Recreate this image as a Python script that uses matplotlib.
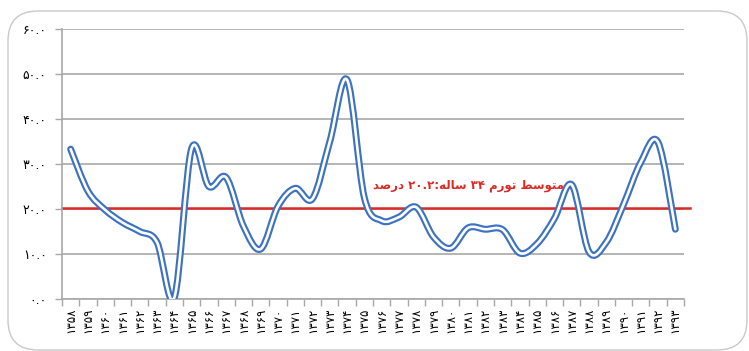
import matplotlib
matplotlib.use("Agg")
import matplotlib.pyplot as plt
from matplotlib.path import Path
from matplotlib.patches import PathPatch, FancyBboxPatch
import numpy as np

# ---------------------------------------------------------------------------
# Data: annual inflation (%), years 1358 … 1393 (Persian calendar)
# ---------------------------------------------------------------------------
years = list(range(1358, 1394))
inflation = [
    33.3, 24.0, 19.8, 17.0, 15.0, 12.6, 0.3, 33.4, 25.0, 27.0,
    16.2, 11.1, 20.6, 24.6, 22.3, 35.0, 48.7, 22.5, 17.4, 18.2,
    20.4, 13.8, 11.3, 15.8, 15.5, 15.4, 10.2, 12.3, 17.9, 25.4,
    10.5, 12.6, 21.0, 30.4, 34.8, 15.5,
]
mean_value = 20.2
y_ticks = [0, 10, 20, 30, 40, 50, 60]

PERSIAN = str.maketrans("0123456789", "۰۱۲۳۴۵۶۷۸۹")

# "متوسط تورم ۳۴ ساله:۲۰.۲ درصد" in shaped presentation forms, visual order
# (matplotlib does no Arabic shaping / bidi on its own)
mean_label = (
    "\uFEAA\uFEBB\uFEAD\uFEA9 "          # درصد
    + "20.2".translate(PERSIAN) + ":"
    + "\uFEEA\uFEDF\uFE8E\uFEB3 "        # ساله
    + "34".translate(PERSIAN) + " "
    + "\uFEE1\uFEAD\uFEEE\uFE97 "        # تورم
    + "\uFEC2\uFEB3\uFEEE\uFE98\uFEE3"   # متوسط
)

BLUE = "#3d72c2"
RED = "#dc2a26"
GRID = "#a8a8a8"


def smooth_path(xs, ys):
    """Excel-like smoothed line: cubic Bezier through every point."""
    pts = np.column_stack([xs, ys]).astype(float)
    n = len(pts)
    verts = [pts[0]]
    codes = [Path.MOVETO]
    for i in range(n - 1):
        p0 = pts[i - 1] if i > 0 else pts[i]
        p1 = pts[i]
        p2 = pts[i + 1]
        p3 = pts[i + 2] if i + 2 < n else pts[i + 1]
        c1 = p1 + (p2 - p0) / 6.0
        c2 = p2 - (p3 - p1) / 6.0
        verts += [c1, c2, p2]
        codes += [Path.CURVE4] * 3
    return Path(verts, codes)


fig = plt.figure(figsize=(7.49, 3.51), dpi=100)
fig.patches.append(FancyBboxPatch(
    (8 / 749, 1 - 350 / 351), 739 / 749, 339 / 351,
    boxstyle="round,pad=0,rounding_size=0.04",
    transform=fig.transFigure, facecolor="none",
    edgecolor="#c9c9c9", lw=1.0, mutation_aspect=749 / 351,
))

ax = fig.add_axes([62 / 749, 1 - 299 / 351, 622 / 749, 270 / 351])

xs = np.arange(len(years))
path = smooth_path(xs, inflation)
ax.add_patch(PathPatch(path, facecolor="none", edgecolor=BLUE, lw=5.0,
                       capstyle="round", joinstyle="round", zorder=3))
ax.add_patch(PathPatch(path, facecolor="none", edgecolor="white", lw=1.9,
                       capstyle="round", joinstyle="round", zorder=4))

ax.axhline(mean_value, xmin=0, xmax=1.01, color=RED, lw=1.8, zorder=2,
           clip_on=False)
ax.text(23.0, 25.2, mean_label, color=RED, fontsize=8.5, fontweight="bold",
        ha="center", va="center", family="DejaVu Sans", zorder=5)

ax.set_xlim(-0.5, len(years) - 0.5)
ax.set_ylim(0, 60)

ax.set_yticks(y_ticks)
ax.set_yticklabels([f"{v:.1f}".translate(PERSIAN) for v in y_ticks],
                   fontsize=9)
ax.yaxis.grid(True, color=GRID, lw=1.2)
ax.set_axisbelow(True)

# tick marks on category boundaries, labels on category centres
ax.set_xticks(np.arange(-0.5, len(years), 1.0))
ax.set_xticklabels([])
ax.set_xticks(xs, minor=True)
ax.set_xticklabels([str(y).translate(PERSIAN) for y in years], minor=True,
                   rotation=90, fontsize=8.5)
ax.tick_params(axis="x", which="major", length=5, color=GRID, width=1)
ax.tick_params(axis="x", which="minor", length=0, pad=6)
ax.tick_params(axis="y", length=5, color=GRID, width=1, pad=6)

for side in ("top", "right"):
    ax.spines[side].set_visible(False)
for side in ("left", "bottom"):
    ax.spines[side].set_color(GRID)
    ax.spines[side].set_linewidth(1.2)

fig.savefig("out.png", dpi=100)
